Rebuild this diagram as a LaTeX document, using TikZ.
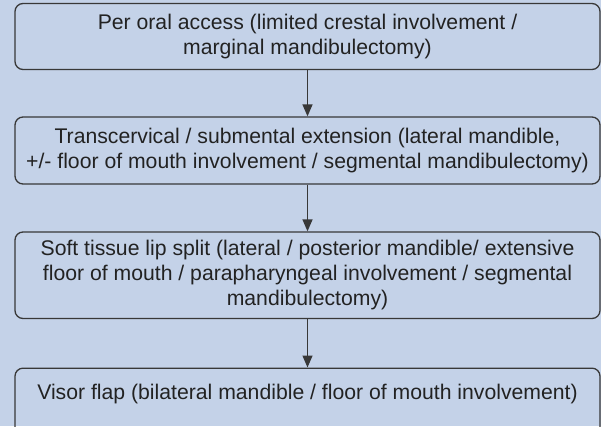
\documentclass[tikz,border=0pt]{standalone}
\usepackage{fontspec}
\setmainfont{Liberation Sans}
\usetikzlibrary{arrows.meta}
\definecolor{panelbg}{HTML}{C4D2E8}
\definecolor{boxline}{HTML}{383838}
\definecolor{boxtext}{HTML}{222222}
\tikzset{
  stepbox/.style={draw=boxline, line width=1.3pt, rounded corners=8pt,
    minimum width=585pt, inner sep=0pt, align=center, text=boxtext,
    font=\fontsize{21.2}{25}\selectfont},
  flow/.style={draw=boxline, line width=1.3pt,
    -{Triangle[width=10pt,length=12pt]}}
}
\begin{document}
\begin{tikzpicture}[x=1pt,y=-1pt]
  \useasboundingbox (0,0) rectangle (601,426);
  \fill[panelbg] (0,0) rectangle (601,426);
  \clip (0,0) rectangle (601,426);
  \node[stepbox, minimum height=66pt] (b1) at (307.5,36.5)
    {Per oral access (limited crestal involvement /\\marginal mandibulectomy)};
  \node[stepbox, minimum height=67pt] (b2) at (307.5,150.5)
    {Transcervical / submental extension (lateral mandible,\\+/- floor of mouth involvement / segmental mandibulectomy)};
  \node[stepbox, minimum height=86.5pt] (b3) at (307.5,275.25)
    {Soft tissue lip split (lateral / posterior mandible/ extensive\\floor of mouth / parapharyngeal involvement / segmental\\mandibulectomy)};
  % the last box runs past the lower edge of the panel
  \node[stepbox, minimum height=80pt, anchor=north, text depth=32pt] (b4) at (307.5,367.5)
    {Visor flap (bilateral mandible / floor of mouth involvement)};
  \draw[flow] (b1) -- (b2);
  \draw[flow] (b2) -- (b3);
  \draw[flow] (b3) -- (b4);
\end{tikzpicture}
\end{document}
